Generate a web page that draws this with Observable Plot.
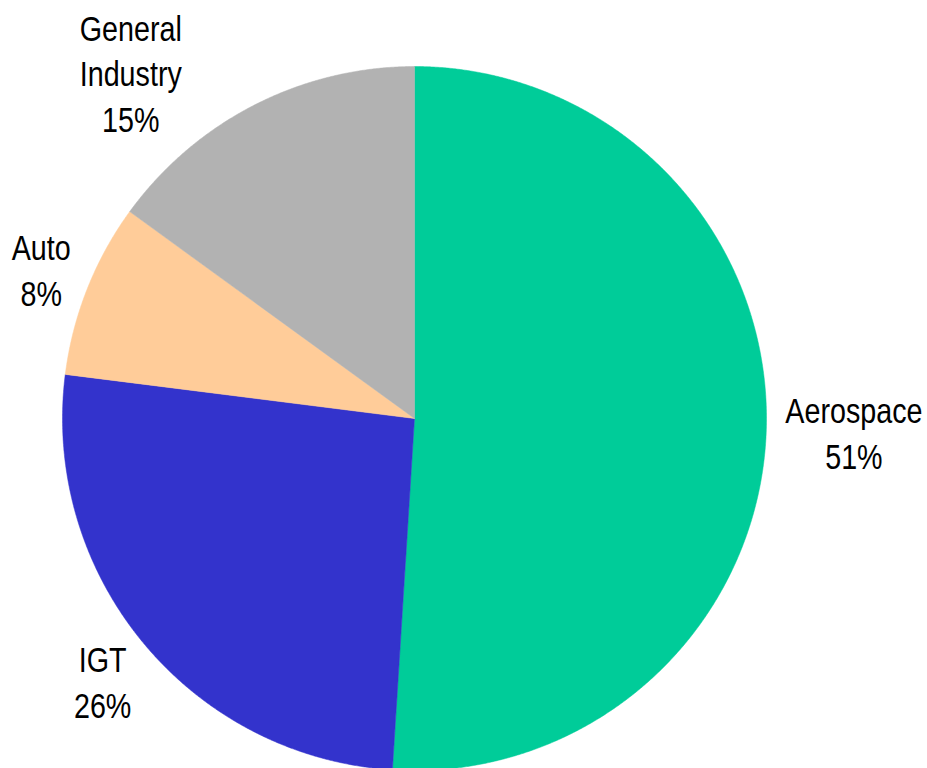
<!DOCTYPE html>
<html><head><meta charset="utf-8">
<script src="https://cdn.jsdelivr.net/npm/d3@7"></script>
<script src="https://cdn.jsdelivr.net/npm/@observablehq/plot@0.6"></script>
<style>body{margin:0;background:#fff}#chart{width:927px;height:768px;overflow:hidden}</style>
</head><body><div id="chart"></div>
<script>
// data
const categories = ["Aerospace", "IGT", "Auto", "General Industry"];
const labelLines = [["Aerospace"], ["IGT"], ["Auto"], ["General", "Industry"]];
const shares = [51, 26, 8, 15];
const colors = ["#00CC99", "#3333CC", "#FFCC99", "#B2B2B2"];

// layout
const W = 927, H = 768;
const CX = 414, CY = 418, R = 352;
const FONT = "'Liberation Sans', Arial, sans-serif";
const NARROW = 0.82;           // horizontal squeeze to mimic Arial Narrow
const FS = 35, LH = 45.5;
const GAP = 19, CORNERGAP = 10, TOPPAD = 13;

const pie = d3.pie().sort(null).value(d => d)(shares);

// slice polygons (data units = pixels, y up, origin at pie centre)
const pts = [];
pie.forEach((p, i) => {
  const name = categories[i];
  pts.push({name, x: 0, y: 0});
  const n = Math.max(2, Math.ceil((p.endAngle - p.startAngle) / 0.004));
  for (let k = 0; k <= n; k++) {
    const a = p.startAngle + (p.endAngle - p.startAngle) * k / n;
    pts.push({name, x: R * Math.sin(a), y: R * Math.cos(a)});
  }
  pts.push({name, x: 0, y: 0});
});

// label placement
const ctx = document.createElement("canvas").getContext("2d");
ctx.font = `${FS}px ${FONT}`;
const capH = FS * 0.716;
const labels = pie.map((p, i) => {
  const lines = [...labelLines[i], `${shares[i]}%`];
  const w = d3.max(lines, s => ctx.measureText(s).width) * NARROW / 2;
  const h = ((lines.length - 1) * LH + capH) / 2;
  const a = (p.startAngle + p.endAngle) / 2;
  const dx = Math.sin(a), dy = Math.cos(a);
  let cx = dx * (R + GAP) + w * dx;
  let cy = dy * (R + GAP) + h * dy;
  const top = CY - TOPPAD;
  if (cy + h > top) {
    cy = top - h;
    const cyc = cy - h * Math.sign(dy);
    const ccx = Math.sign(dx) * Math.sqrt(Math.max(0, (R + GAP) ** 2 - cyc ** 2));
    cx = ccx + w * Math.sign(dx);
  } else {
    for (let t = 0; t < 200; t++) {
      const kx = cx - w * Math.sign(dx), ky = cy - h * Math.sign(dy);
      if (Math.hypot(kx, ky) >= R + CORNERGAP) break;
      cx += dx; cy += dy;
    }
  }
  return {text: lines.join("\n"), x: cx, y: cy};
});

const chart = Plot.plot({
  width: W, height: H, margin: 0,
  style: {fontFamily: FONT, background: "#fff"},
  x: {domain: [-CX, W - CX], axis: null},
  y: {domain: [CY - H, CY], axis: null},
  color: {domain: categories, range: colors},
  marks: [
    Plot.line(pts, {x: "x", y: "y", z: "name", fill: "name", stroke: "name", strokeWidth: 0.5, curve: "linear"}),
    Plot.text(labels, {x: "x", y: "y", text: "text", fontSize: FS, lineHeight: LH / FS, lineAnchor: "middle", textAnchor: "middle", fill: "#000"})
  ]
});
d3.select(chart).selectAll("text").each(function() {
  const t = this.getAttribute("transform") || "";
  this.setAttribute("transform", `${t} scale(${NARROW},1)`);
});
document.getElementById("chart").appendChild(chart);
</script>
</body></html>
